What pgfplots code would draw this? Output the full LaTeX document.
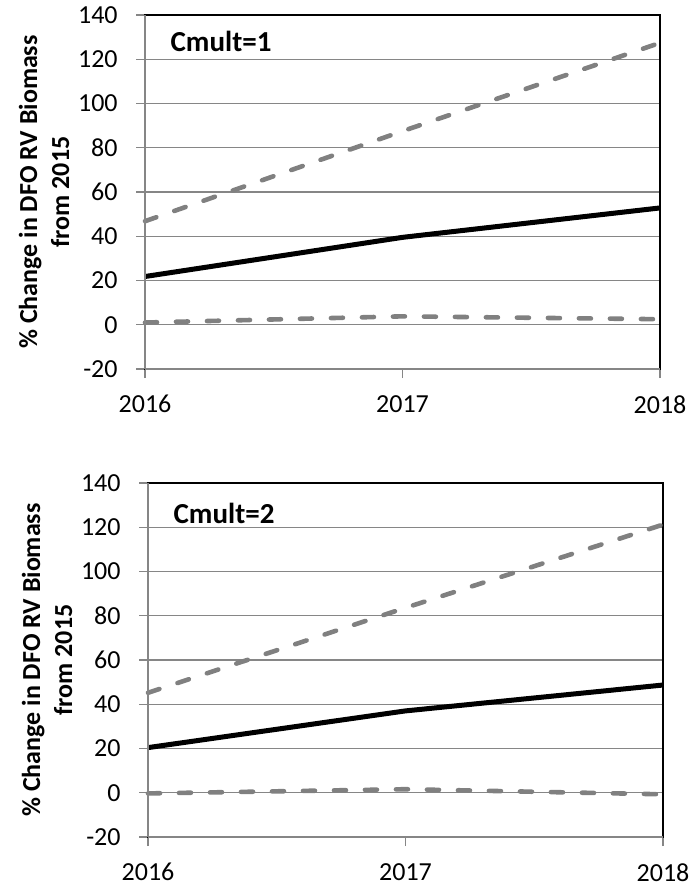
\documentclass[border=0pt]{standalone}
\usepackage{pgfplots}
\pgfplotsset{compat=1.18}
\usepackage{fontspec}
\setmainfont{Carlito}
\definecolor{gridc}{RGB}{134,134,134}
\definecolor{dashc}{RGB}{128,128,128}
\pgfplotsset{
  panel/.style={
    scale only axis,
    width=257.5pt, height=177pt,
    xmin=2016, xmax=2018, ymin=-20, ymax=140,
    xtick={2016,2017,2018},
    ytick={-20,0,20,40,60,80,100,120,140},
    xtick pos=left, ytick pos=left,
    tick align=outside,
    major tick length=4.5pt,
    every tick/.style={gridc, line width=0.6pt},
    ymajorgrids,
    grid style={gridc, line width=0.6pt},
    axis line style={black, line width=0.6pt},
    clip=false,
    /pgf/number format/1000 sep={},
    /pgf/number format/assume math mode=true,
    ticklabel style={font=\fontsize{13}{15}\selectfont},
    yticklabel style={anchor=east, inner sep=0pt, xshift=-9pt},
    xticklabel style={anchor=north, inner sep=0pt, yshift=-8.5pt},
    every axis y label/.style={at={([xshift=-50.5pt]axis description cs:0,0.5)}, rotate=90, anchor=center, align=center,
      font=\fontsize{13}{16}\selectfont\bfseries},
    ylabel={\% Change in DFO RV Biomass\\from 2015},
    mid/.style={black, line width=2.5pt},
    band/.style={dashc, line width=2.3pt, line cap=round, dash pattern=on 6pt off 9.5pt},
  }
}
\begin{document}
\begin{tikzpicture}
\useasboundingbox (0,0) rectangle (345.5pt,-443pt);
% top panel
\begin{axis}[panel, at={(72.5pt,-184.5pt)}, anchor=south west]
\addplot[band] coordinates {(2016,46.8) (2017,87.5) (2018,127.4)};
\addplot[mid] coordinates {(2016,21.8) (2017,39.5) (2018,52.8)};
\addplot[band] coordinates {(2016,1.0) (2017,3.8) (2018,2.5)};
\node[anchor=west, inner sep=0pt, font=\fontsize{14.5}{16}\selectfont\bfseries] at (axis description cs:0.049,0.924) {Cmult=1};
\draw[gridc, line width=0.8pt] (axis description cs:0,0) -- (axis description cs:0,1);
\draw[gridc, line width=0.8pt] (axis description cs:0,0) -- (axis description cs:1,0);
\end{axis}
% bottom panel
\begin{axis}[panel, at={(74pt,-418.5pt)}, anchor=south west]
\addplot[band] coordinates {(2016,45.2) (2017,83.6) (2018,121.2)};
\addplot[mid] coordinates {(2016,20.4) (2017,37.0) (2018,48.7)};
\addplot[band] coordinates {(2016,-0.3) (2017,1.6) (2018,-0.7)};
\node[anchor=west, inner sep=0pt, font=\fontsize{14.5}{16}\selectfont\bfseries] at (axis description cs:0.049,0.913) {Cmult=2};
\draw[gridc, line width=0.8pt] (axis description cs:0,0) -- (axis description cs:0,1);
\draw[gridc, line width=0.8pt] (axis description cs:0,0) -- (axis description cs:1,0);
\end{axis}
\end{tikzpicture}
\end{document}
